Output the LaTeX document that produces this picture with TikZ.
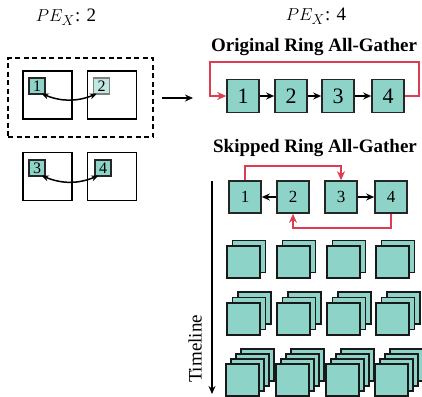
\documentclass[tikz,border=0pt]{standalone}
\usepackage{fontspec}
\setmainfont{Liberation Serif}
\usetikzlibrary{arrows.meta}
\definecolor{tealf}{RGB}{141,211,199}
\definecolor{ringred}{RGB}{222,60,80}
\tikzset{
 big/.style={font=\fontsize{19}{22}\selectfont},
 ttl/.style={font=\bfseries\fontsize{19}{22}\selectfont},
 ringbox/.style={draw=black!85, line width=1.6pt, fill=tealf, minimum width=32pt, minimum height=33pt, inner sep=0pt, font=\fontsize{22}{24}\selectfont},
 skipbox/.style={ringbox, minimum height=32pt, font=\fontsize{17}{20}\selectfont},
 gpu/.style={draw, line width=1.5pt, minimum width=49pt, minimum height=48pt, inner sep=0pt},
 chip/.style={draw=black!85, line width=1.5pt, fill=tealf, minimum size=16pt, inner sep=0pt, font=\fontsize{16}{18}\selectfont},
 ghost/.style={chip, draw=gray, fill=tealf!55},
 stackbox/.style={draw=black!90, line width=1.6pt, fill=tealf, minimum width=33pt, minimum height=32pt, inner sep=0pt, anchor=north west},
 blk/.style={line width=1.5pt, -{Stealth[length=8pt,width=7pt]}},
 dbl/.style={line width=1.5pt, {Stealth[length=7pt,width=6pt]}-{Stealth[length=7pt,width=6pt]}},
 redl/.style={draw=ringred, line width=2pt, -{Stealth[length=9pt,width=8pt]}},
}
\begin{document}
\begin{tikzpicture}[x=1pt,y=-1pt]
\useasboundingbox (0,0) rectangle (422,396);
% left part
\node[big] (pe2) at (66,17) {$PE_X$: 2};
\node[draw, line width=1.5pt, dash pattern=on 5pt off 3.5pt, minimum width=145pt, minimum height=79pt, inner sep=0pt] (grp) at (80.5,97.5) {};
\node[gpu] (g1) at (47.5,95) {};
\node[gpu] (g2) at (112,95) {};
\node[gpu] (g3) at (47.5,176.5) {};
\node[gpu] (g4) at (112,176.5) {};
\node[chip] (c1) at (37,86) {1};
\node[ghost] (c2) at (101.5,86) {2};
\node[chip] (c3) at (37,168) {3};
\node[chip] (c4) at (103,168) {4};
\draw[dbl] ([xshift=-4pt,yshift=1pt]c1.south east) to[bend right=22] ([xshift=4pt,yshift=1pt]c2.south west);
\draw[dbl] ([xshift=-4pt,yshift=1pt]c3.south east) to[bend right=22] ([xshift=4pt,yshift=1pt]c4.south west);
\coordinate (a0) at (162,98);
\coordinate (a1) at (193,98);
\draw[blk] (a0) -- (a1);
% right part
\node[big] (pe4) at (316,16) {$PE_X$: 4};
\node[ttl] (t1) at (314,47) {Original Ring All-Gather};
\node[ringbox] (o1) at (243,96) {1};
\node[ringbox] (o2) at (291,96) {2};
\node[ringbox] (o3) at (338,96) {3};
\node[ringbox] (o4) at (388,96) {4};
\draw[blk] (o1) -- (o2);
\draw[blk] (o2) -- (o3);
\draw[blk] (o3) -- (o4);
\coordinate (oR) at (419,62);
\coordinate (oL) at (210,62);
\draw[redl] (o4.east) -| (oR) -- (oL) |- (o1.west);
\node[ttl] (t2) at (315,148) {Skipped Ring All-Gather};
\node[skipbox] (k1) at (245,197) {1};
\node[skipbox] (k2) at (293,197) {2};
\node[skipbox] (k3) at (341,197) {3};
\node[skipbox] (k4) at (391,197) {4};
\draw[blk] (k2) -- (k1);
\draw[blk] (k3) -- (k4);
\coordinate (kt) at (341,166);
\coordinate (kb) at (391,228);
\draw[redl] (k1.north) |- (kt) -- (k3.north);
\draw[redl] (k4.south) -- (kb) -| (k2.south);
% timeline
\coordinate (tl0) at (212,181);
\coordinate (tl1) at (212,394);
\draw[blk] (tl0) -- (tl1);
\node[big, rotate=90] (tl) at (195,349) {Timeline};
% stacks
\foreach \x/\c in {226/1,276/2,326/3,375/4} {
  \foreach \k in {1,0} {
    \node[stackbox] (sa\c\k) at ({\x+5.5*\k},{245-5.5*\k}) {};
  }
  \foreach \k in {2,1,0} {
    \node[stackbox] (sb\c\k) at ({\x+5.5*\k},{302-5.5*\k}) {};
  }
  \foreach \k in {3,2,1,0} {
    \node[stackbox] (sc\c\k) at ({\x-1+5*\k},{363-5*\k}) {};
  }
}
\end{tikzpicture}
\end{document}
